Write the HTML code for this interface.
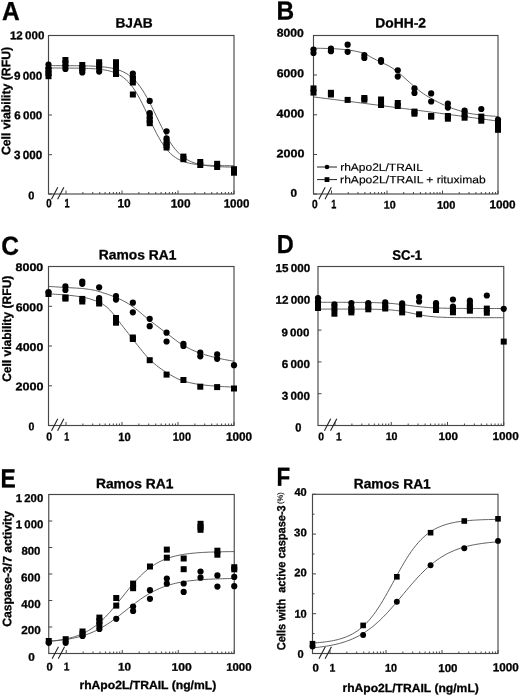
<!DOCTYPE html>
<html><head><meta charset="utf-8"><style>
html,body{margin:0;padding:0;background:#fff;}
svg{display:block;font-family:"Liberation Sans", sans-serif;filter:grayscale(1);}
</style></head><body>
<svg width="520" height="696" viewBox="0 0 520 696">
<rect width="520" height="696" fill="#fff"/>
<g fill="#000">
<rect x="48.5" y="35.5" width="185.5" height="158.5" fill="none" stroke="#474747" stroke-width="1.15"/>
<path d="M48.5 35.5 h3.5 M48.5 75.2 h3.5 M48.5 115 h3.5 M48.5 154.7 h3.5 M48.5 194 h3.5 M66 194 v-3.5 M82.86 194 v-2 M92.72 194 v-2 M99.72 194 v-2 M105.14 194 v-2 M109.58 194 v-2 M113.33 194 v-2 M116.57 194 v-2 M119.44 194 v-2 M122 194 v-3.5 M138.86 194 v-2 M148.72 194 v-2 M155.72 194 v-2 M161.14 194 v-2 M165.58 194 v-2 M169.33 194 v-2 M172.57 194 v-2 M175.44 194 v-2 M178 194 v-3.5 M194.86 194 v-2 M204.72 194 v-2 M211.72 194 v-2 M217.14 194 v-2 M221.58 194 v-2 M225.33 194 v-2 M228.57 194 v-2 M231.44 194 v-2 M234 194 v-3.5 " stroke="#474747" stroke-width="1" fill="none"/>
<path d="M51.5 199.2 L57.8 187.3 M57.6 199.2 L63.9 187.3" stroke="#222" stroke-width="1.1" fill="none"/>
<path d="M48.5 65.61 L50.85 65.62 L53.2 65.62 L55.54 65.63 L57.89 65.63 L60.24 65.64 L62.59 65.65 L64.94 65.66 L67.28 65.67 L69.63 65.68 L71.98 65.7 L74.33 65.72 L76.68 65.75 L79.03 65.78 L81.37 65.81 L83.72 65.86 L86.07 65.92 L88.42 65.98 L90.77 66.06 L93.11 66.16 L95.46 66.28 L97.81 66.42 L100.16 66.59 L102.51 66.8 L104.85 67.05 L107.2 67.36 L109.55 67.72 L111.9 68.16 L114.25 68.69 L116.59 69.32 L118.94 70.08 L121.29 70.97 L123.64 72.04 L125.99 73.31 L128.34 74.8 L130.68 76.54 L133.03 78.56 L135.38 80.9 L137.73 83.57 L140.08 86.6 L142.42 89.99 L144.77 93.73 L147.12 97.81 L149.47 102.19 L151.82 106.81 L154.16 111.6 L156.51 116.48 L158.86 121.35 L161.21 126.14 L163.56 130.76 L165.91 135.13 L168.25 139.21 L170.6 142.95 L172.95 146.33 L175.3 149.36 L177.65 152.03 L179.99 154.36 L182.34 156.38 L184.69 158.12 L187.04 159.61 L189.39 160.87 L191.73 161.94 L194.08 162.83 L196.43 163.59 L198.78 164.22 L201.13 164.74 L203.47 165.18 L205.82 165.55 L208.17 165.85 L210.52 166.1 L212.87 166.31 L215.22 166.48 L217.56 166.62 L219.91 166.74 L222.26 166.84 L224.61 166.92 L226.96 166.99 L229.3 167.04 L231.65 167.09 L234 167.12" stroke="#505050" stroke-width="0.9" fill="none"/>
<path d="M48.5 68.01 L50.85 68.02 L53.2 68.02 L55.54 68.03 L57.89 68.03 L60.24 68.04 L62.59 68.05 L64.94 68.06 L67.28 68.07 L69.63 68.09 L71.98 68.11 L74.33 68.14 L76.68 68.17 L79.03 68.21 L81.37 68.25 L83.72 68.31 L86.07 68.38 L88.42 68.47 L90.77 68.58 L93.11 68.72 L95.46 68.88 L97.81 69.08 L100.16 69.33 L102.51 69.63 L104.85 70 L107.2 70.45 L109.55 70.99 L111.9 71.66 L114.25 72.46 L116.59 73.44 L118.94 74.61 L121.29 76.01 L123.64 77.68 L125.99 79.65 L128.34 81.95 L130.68 84.63 L133.03 87.69 L135.38 91.17 L137.73 95.04 L140.08 99.28 L142.42 103.86 L144.77 108.7 L147.12 113.7 L149.47 118.78 L151.82 123.81 L154.16 128.7 L156.51 133.35 L158.86 137.69 L161.21 141.66 L163.56 145.24 L165.91 148.41 L168.25 151.19 L170.6 153.59 L172.95 155.64 L175.3 157.38 L177.65 158.85 L179.99 160.08 L182.34 161.1 L184.69 161.95 L187.04 162.65 L189.39 163.22 L191.73 163.7 L194.08 164.08 L196.43 164.4 L198.78 164.66 L201.13 164.87 L203.47 165.04 L205.82 165.19 L208.17 165.3 L210.52 165.39 L212.87 165.47 L215.22 165.53 L217.56 165.58 L219.91 165.62 L222.26 165.66 L224.61 165.68 L226.96 165.7 L229.3 165.72 L231.65 165.74 L234 165.75" stroke="#505050" stroke-width="0.9" fill="none"/>
<circle cx="48.5" cy="64.5" r="3.1"/>
<circle cx="48.5" cy="68" r="3.1"/>
<rect x="45.5" y="67" width="6.0" height="6.0"/>
<rect x="45.5" y="70" width="6.0" height="6.0"/>
<rect x="45.5" y="73.2" width="6.0" height="6.0"/>
<rect x="62.42" y="57" width="6.0" height="6.0"/>
<rect x="62.42" y="60.5" width="6.0" height="6.0"/>
<circle cx="65.42" cy="66" r="3.1"/>
<circle cx="65.42" cy="69" r="3.1"/>
<rect x="79.28" y="62" width="6.0" height="6.0"/>
<rect x="79.28" y="65" width="6.0" height="6.0"/>
<circle cx="82.28" cy="70" r="3.1"/>
<circle cx="82.28" cy="72.4" r="3.1"/>
<rect x="96.14" y="59.2" width="6.0" height="6.0"/>
<rect x="96.14" y="62" width="6.0" height="6.0"/>
<circle cx="99.14" cy="68" r="3.1"/>
<circle cx="99.14" cy="71.6" r="3.1"/>
<rect x="113" y="59.2" width="6.0" height="6.0"/>
<rect x="113" y="63" width="6.0" height="6.0"/>
<circle cx="116" cy="70" r="3.1"/>
<rect x="113" y="71" width="6.0" height="6.0"/>
<circle cx="132.85" cy="73.6" r="3.1"/>
<circle cx="132.85" cy="77" r="3.1"/>
<rect x="129.85" y="76" width="6.0" height="6.0"/>
<rect x="129.85" y="79.5" width="6.0" height="6.0"/>
<rect x="129.85" y="91.5" width="6.0" height="6.0"/>
<circle cx="149.71" cy="100.9" r="3.1"/>
<circle cx="149.71" cy="113" r="3.1"/>
<rect x="146.71" y="113" width="6.0" height="6.0"/>
<rect x="146.71" y="117" width="6.0" height="6.0"/>
<rect x="146.71" y="120.2" width="6.0" height="6.0"/>
<circle cx="166.57" cy="131.3" r="3.1"/>
<circle cx="166.57" cy="138.4" r="3.1"/>
<rect x="163.57" y="139" width="6.0" height="6.0"/>
<rect x="163.57" y="142" width="6.0" height="6.0"/>
<rect x="163.57" y="144.5" width="6.0" height="6.0"/>
<rect x="180.43" y="153.6" width="6.0" height="6.0"/>
<rect x="180.43" y="156.2" width="6.0" height="6.0"/>
<rect x="197.28" y="159" width="6.0" height="6.0"/>
<rect x="197.28" y="162" width="6.0" height="6.0"/>
<rect x="214.14" y="160.8" width="6.0" height="6.0"/>
<rect x="214.14" y="164" width="6.0" height="6.0"/>
<rect x="231" y="166.2" width="6.0" height="6.0"/>
<rect x="231" y="169.7" width="6.0" height="6.0"/>
<rect x="313.5" y="35.5" width="184.5" height="158.5" fill="none" stroke="#474747" stroke-width="1.15"/>
<path d="M313.5 35.5 h3.5 M313.5 75 h3.5 M313.5 114.8 h3.5 M313.5 154.5 h3.5 M313.5 194 h3.5 M331.5 194 v-3.5 M348.21 194 v-2 M357.98 194 v-2 M364.91 194 v-2 M370.29 194 v-2 M374.69 194 v-2 M378.4 194 v-2 M381.62 194 v-2 M384.46 194 v-2 M387 194 v-3.5 M403.71 194 v-2 M413.48 194 v-2 M420.41 194 v-2 M425.79 194 v-2 M430.19 194 v-2 M433.9 194 v-2 M437.12 194 v-2 M439.96 194 v-2 M442.5 194 v-3.5 M459.21 194 v-2 M468.98 194 v-2 M475.91 194 v-2 M481.29 194 v-2 M485.69 194 v-2 M489.4 194 v-2 M492.62 194 v-2 M495.46 194 v-2 M498 194 v-3.5 " stroke="#474747" stroke-width="1" fill="none"/>
<path d="M318.9 199.2 L325.2 187.3 M325 199.2 L331.3 187.3" stroke="#222" stroke-width="1.1" fill="none"/>
<path d="M313.5 48.25 L315.84 48.26 L318.17 48.28 L320.51 48.32 L322.84 48.37 L325.18 48.43 L327.51 48.49 L329.85 48.56 L332.18 48.64 L334.52 48.76 L336.85 48.9 L339.19 49.08 L341.53 49.29 L343.86 49.52 L346.2 49.77 L348.53 50.05 L350.87 50.37 L353.2 50.75 L355.54 51.19 L357.87 51.7 L360.21 52.28 L362.54 52.95 L364.88 53.7 L367.22 54.9 L369.55 56.35 L371.89 57.64 L374.22 58.89 L376.56 60.08 L378.89 61.22 L381.23 62.35 L383.56 63.43 L385.9 64.5 L388.23 65.64 L390.57 66.93 L392.91 68.41 L395.24 70.05 L397.58 71.8 L399.91 73.72 L402.25 75.81 L404.58 77.93 L406.92 80.01 L409.25 82.12 L411.59 84.22 L413.92 86.24 L416.26 88.2 L418.59 90.11 L420.93 91.92 L423.27 93.58 L425.6 95.12 L427.94 96.57 L430.27 97.96 L432.61 99.28 L434.94 100.54 L437.28 101.74 L439.61 102.91 L441.95 104.05 L444.28 105.13 L446.62 106.14 L448.96 107.07 L451.29 107.94 L453.63 108.76 L455.96 109.54 L458.3 110.28 L460.63 110.99 L462.97 111.7 L465.3 112.38 L467.64 113 L469.97 113.5 L472.31 113.89 L474.65 114.24 L476.98 114.54 L479.32 114.81 L481.65 115.07 L483.99 115.32 L486.32 115.55 L488.66 115.78 L490.99 115.99 L493.33 116.18 L495.66 116.35 L498 116.5" stroke="#505050" stroke-width="0.9" fill="none"/>
<path d="M313.5 96.93 L315.84 97.22 L318.17 97.51 L320.51 97.81 L322.84 98.1 L325.18 98.4 L327.51 98.69 L329.85 98.99 L332.18 99.28 L334.52 99.58 L336.85 99.88 L339.19 100.17 L341.53 100.47 L343.86 100.77 L346.2 101.06 L348.53 101.36 L350.87 101.66 L353.2 101.96 L355.54 102.26 L357.87 102.56 L360.21 102.86 L362.54 103.16 L364.88 103.46 L367.22 103.76 L369.55 104.06 L371.89 104.36 L374.22 104.66 L376.56 104.96 L378.89 105.26 L381.23 105.57 L383.56 105.87 L385.9 106.17 L388.23 106.48 L390.57 106.78 L392.91 107.08 L395.24 107.39 L397.58 107.69 L399.91 108 L402.25 108.3 L404.58 108.61 L406.92 108.92 L409.25 109.22 L411.59 109.53 L413.92 109.84 L416.26 110.14 L418.59 110.45 L420.93 110.76 L423.27 111.07 L425.6 111.38 L427.94 111.69 L430.27 111.99 L432.61 112.3 L434.94 112.61 L437.28 112.92 L439.61 113.24 L441.95 113.55 L444.28 113.86 L446.62 114.17 L448.96 114.48 L451.29 114.79 L453.63 115.11 L455.96 115.42 L458.3 115.73 L460.63 116.05 L462.97 116.36 L465.3 116.68 L467.64 116.99 L469.97 117.31 L472.31 117.62 L474.65 117.94 L476.98 118.25 L479.32 118.57 L481.65 118.89 L483.99 119.21 L486.32 119.52 L488.66 119.84 L490.99 120.16 L493.33 120.48 L495.66 120.8 L498 121.12" stroke="#505050" stroke-width="0.9" fill="none"/>
<circle cx="313.5" cy="49.5" r="3.1"/>
<circle cx="313.5" cy="53" r="3.1"/>
<rect x="310.5" y="85.4" width="6.0" height="6.0"/>
<rect x="310.5" y="89.6" width="6.0" height="6.0"/>
<circle cx="330.93" cy="48.6" r="3.1"/>
<circle cx="330.93" cy="51.2" r="3.1"/>
<rect x="327.93" y="89.8" width="6.0" height="6.0"/>
<rect x="327.93" y="91.5" width="6.0" height="6.0"/>
<circle cx="347.64" cy="44.7" r="3.1"/>
<circle cx="347.64" cy="51.8" r="3.1"/>
<rect x="344.64" y="96.9" width="6.0" height="6.0"/>
<circle cx="364.34" cy="55" r="3.1"/>
<circle cx="364.34" cy="58" r="3.1"/>
<rect x="361.34" y="95" width="6.0" height="6.0"/>
<rect x="361.34" y="96.7" width="6.0" height="6.0"/>
<circle cx="381.05" cy="60" r="3.1"/>
<circle cx="381.05" cy="61.8" r="3.1"/>
<rect x="378.05" y="96.5" width="6.0" height="6.0"/>
<rect x="378.05" y="102" width="6.0" height="6.0"/>
<circle cx="397.76" cy="70.3" r="3.1"/>
<circle cx="397.76" cy="76.6" r="3.1"/>
<rect x="394.76" y="100" width="6.0" height="6.0"/>
<rect x="394.76" y="103" width="6.0" height="6.0"/>
<circle cx="414.46" cy="88.4" r="3.1"/>
<circle cx="414.46" cy="93" r="3.1"/>
<rect x="411.46" y="108.6" width="6.0" height="6.0"/>
<rect x="411.46" y="110.7" width="6.0" height="6.0"/>
<circle cx="431.17" cy="93.4" r="3.1"/>
<circle cx="431.17" cy="101.5" r="3.1"/>
<rect x="428.17" y="113" width="6.0" height="6.0"/>
<rect x="428.17" y="113.7" width="6.0" height="6.0"/>
<circle cx="447.88" cy="103.5" r="3.1"/>
<circle cx="447.88" cy="107.6" r="3.1"/>
<rect x="444.88" y="113" width="6.0" height="6.0"/>
<rect x="444.88" y="115.7" width="6.0" height="6.0"/>
<circle cx="464.59" cy="110.6" r="3.1"/>
<rect x="461.59" y="111" width="6.0" height="6.0"/>
<rect x="461.59" y="114.7" width="6.0" height="6.0"/>
<circle cx="481.29" cy="109" r="3.1"/>
<rect x="478.29" y="113.6" width="6.0" height="6.0"/>
<rect x="478.29" y="117.7" width="6.0" height="6.0"/>
<circle cx="498" cy="119.5" r="3.1"/>
<rect x="495" y="119" width="6.0" height="6.0"/>
<rect x="495" y="123" width="6.0" height="6.0"/>
<rect x="495" y="126.8" width="6.0" height="6.0"/>
<path d="M317 167 H337 M317 179.6 H337" stroke="#222" stroke-width="1"/>
<circle cx="327" cy="167" r="2.3"/>
<rect x="324.6" y="177.2" width="4.8" height="4.8"/>
<rect x="48.5" y="266.5" width="185.5" height="159" fill="none" stroke="#474747" stroke-width="1.15"/>
<path d="M48.5 266.5 h3.5 M48.5 306.3 h3.5 M48.5 346 h3.5 M48.5 385.8 h3.5 M48.5 425.5 h3.5 M66 425.5 v-3.5 M82.86 425.5 v-2 M92.72 425.5 v-2 M99.72 425.5 v-2 M105.14 425.5 v-2 M109.58 425.5 v-2 M113.33 425.5 v-2 M116.57 425.5 v-2 M119.44 425.5 v-2 M122 425.5 v-3.5 M138.86 425.5 v-2 M148.72 425.5 v-2 M155.72 425.5 v-2 M161.14 425.5 v-2 M165.58 425.5 v-2 M169.33 425.5 v-2 M172.57 425.5 v-2 M175.44 425.5 v-2 M178 425.5 v-3.5 M194.86 425.5 v-2 M204.72 425.5 v-2 M211.72 425.5 v-2 M217.14 425.5 v-2 M221.58 425.5 v-2 M225.33 425.5 v-2 M228.57 425.5 v-2 M231.44 425.5 v-2 M234 425.5 v-3.5 " stroke="#474747" stroke-width="1" fill="none"/>
<path d="M51.5 430.7 L57.8 418.8 M57.6 430.7 L63.9 418.8" stroke="#222" stroke-width="1.1" fill="none"/>
<path d="M48.5 286.4 L50.85 286.56 L53.2 286.71 L55.54 286.86 L57.89 287.02 L60.24 287.17 L62.59 287.32 L64.94 287.46 L67.28 287.61 L69.63 287.73 L71.98 287.86 L74.33 287.98 L76.68 288.11 L79.03 288.27 L81.37 288.45 L83.72 288.66 L86.07 288.93 L88.42 289.25 L90.77 289.62 L93.11 290.04 L95.46 290.5 L97.81 291.1 L100.16 291.82 L102.51 292.61 L104.85 293.38 L107.2 294.16 L109.55 294.97 L111.9 295.84 L114.25 296.76 L116.59 297.72 L118.94 298.74 L121.29 299.82 L123.64 300.99 L125.99 302.27 L128.34 303.7 L130.68 305.24 L133.03 306.88 L135.38 308.58 L137.73 310.42 L140.08 312.39 L142.42 314.4 L144.77 316.38 L147.12 318.3 L149.47 320.18 L151.82 322.02 L154.16 323.82 L156.51 325.61 L158.86 327.38 L161.21 329.14 L163.56 330.89 L165.91 332.63 L168.25 334.4 L170.6 336.22 L172.95 338.06 L175.3 339.89 L177.65 341.65 L179.99 343.3 L182.34 344.8 L184.69 346.13 L187.04 347.4 L189.39 348.59 L191.73 349.72 L194.08 350.78 L196.43 351.77 L198.78 352.68 L201.13 353.52 L203.47 354.29 L205.82 355.01 L208.17 355.68 L210.52 356.32 L212.87 356.92 L215.22 357.48 L217.56 358.03 L219.91 358.55 L222.26 359.06 L224.61 359.54 L226.96 360 L229.3 360.43 L231.65 360.83 L234 361.2" stroke="#505050" stroke-width="0.9" fill="none"/>
<path d="M48.5 293.9 L50.85 294 L53.2 294.11 L55.54 294.25 L57.89 294.41 L60.24 294.58 L62.59 294.76 L64.94 294.95 L67.28 295.16 L69.63 295.38 L71.98 295.62 L74.33 295.89 L76.68 296.19 L79.03 296.52 L81.37 296.89 L83.72 297.32 L86.07 297.85 L88.42 298.47 L90.77 299.17 L93.11 299.94 L95.46 300.77 L97.81 301.71 L100.16 302.8 L102.51 304.08 L104.85 305.58 L107.2 307.49 L109.55 309.76 L111.9 312.26 L114.25 314.98 L116.59 318.17 L118.94 321.39 L121.29 324.43 L123.64 327.44 L125.99 330.43 L128.34 333.43 L130.68 336.47 L133.03 339.51 L135.38 342.53 L137.73 345.47 L140.08 348.38 L142.42 351.31 L144.77 354.17 L147.12 356.86 L149.47 359.28 L151.82 361.45 L154.16 363.51 L156.51 365.45 L158.86 367.29 L161.21 369.01 L163.56 370.64 L165.91 372.15 L168.25 373.58 L170.6 374.97 L172.95 376.32 L175.3 377.58 L177.65 378.74 L179.99 379.76 L182.34 380.63 L184.69 381.34 L187.04 381.98 L189.39 382.56 L191.73 383.09 L194.08 383.56 L196.43 383.99 L198.78 384.36 L201.13 384.68 L203.47 384.97 L205.82 385.24 L208.17 385.48 L210.52 385.7 L212.87 385.89 L215.22 386.07 L217.56 386.24 L219.91 386.39 L222.26 386.54 L224.61 386.68 L226.96 386.81 L229.3 386.92 L231.65 387.02 L234 387.1" stroke="#505050" stroke-width="0.9" fill="none"/>
<circle cx="48.5" cy="292" r="3.1"/>
<rect x="45.5" y="291" width="6.0" height="6.0"/>
<circle cx="65.42" cy="286.4" r="3.1"/>
<circle cx="65.42" cy="290" r="3.1"/>
<rect x="62.42" y="294.5" width="6.0" height="6.0"/>
<rect x="62.42" y="295.6" width="6.0" height="6.0"/>
<circle cx="82.28" cy="281.6" r="3.1"/>
<circle cx="82.28" cy="283.8" r="3.1"/>
<rect x="79.28" y="295.9" width="6.0" height="6.0"/>
<rect x="79.28" y="298.5" width="6.0" height="6.0"/>
<circle cx="99.14" cy="287.3" r="3.1"/>
<circle cx="99.14" cy="298" r="3.1"/>
<rect x="96.14" y="298" width="6.0" height="6.0"/>
<rect x="96.14" y="300.5" width="6.0" height="6.0"/>
<circle cx="116" cy="296" r="3.1"/>
<circle cx="116" cy="299.6" r="3.1"/>
<rect x="113" y="315" width="6.0" height="6.0"/>
<rect x="113" y="319.7" width="6.0" height="6.0"/>
<circle cx="132.85" cy="302.7" r="3.1"/>
<circle cx="132.85" cy="312.3" r="3.1"/>
<rect x="129.85" y="334.5" width="6.0" height="6.0"/>
<rect x="129.85" y="336" width="6.0" height="6.0"/>
<circle cx="149.71" cy="318.8" r="3.1"/>
<circle cx="149.71" cy="326.2" r="3.1"/>
<rect x="146.71" y="357.2" width="6.0" height="6.0"/>
<circle cx="166.57" cy="332.7" r="3.1"/>
<circle cx="166.57" cy="341.5" r="3.1"/>
<rect x="163.57" y="371.6" width="6.0" height="6.0"/>
<circle cx="183.43" cy="343.8" r="3.1"/>
<circle cx="183.43" cy="346" r="3.1"/>
<rect x="180.43" y="377" width="6.0" height="6.0"/>
<circle cx="200.28" cy="352.5" r="3.1"/>
<circle cx="200.28" cy="356.3" r="3.1"/>
<rect x="197.28" y="383.7" width="6.0" height="6.0"/>
<circle cx="217.14" cy="354.4" r="3.1"/>
<circle cx="217.14" cy="358.8" r="3.1"/>
<rect x="214.14" y="384.1" width="6.0" height="6.0"/>
<circle cx="234" cy="365.2" r="3.1"/>
<rect x="231" y="385.5" width="6.0" height="6.0"/>
<rect x="318" y="266.5" width="185.75" height="159" fill="none" stroke="#474747" stroke-width="1.15"/>
<path d="M318 266.5 h3.5 M318 298.3 h3.5 M318 330.1 h3.5 M318 361.9 h3.5 M318 393.7 h3.5 M318 425.5 h3.5 M335 425.5 v-3.5 M351.93 425.5 v-2 M361.84 425.5 v-2 M368.87 425.5 v-2 M374.32 425.5 v-2 M378.77 425.5 v-2 M382.54 425.5 v-2 M385.8 425.5 v-2 M388.68 425.5 v-2 M391.25 425.5 v-3.5 M408.18 425.5 v-2 M418.09 425.5 v-2 M425.12 425.5 v-2 M430.57 425.5 v-2 M435.02 425.5 v-2 M438.79 425.5 v-2 M442.05 425.5 v-2 M444.93 425.5 v-2 M447.5 425.5 v-3.5 M464.43 425.5 v-2 M474.34 425.5 v-2 M481.37 425.5 v-2 M486.82 425.5 v-2 M491.27 425.5 v-2 M495.04 425.5 v-2 M498.3 425.5 v-2 M501.18 425.5 v-2 M503.75 425.5 v-3.5 " stroke="#474747" stroke-width="1" fill="none"/>
<path d="M324.4 430.7 L330.7 418.8 M330.5 430.7 L336.8 418.8" stroke="#222" stroke-width="1.1" fill="none"/>
<path d="M318 302.29 L320.35 302.3 L322.7 302.3 L325.05 302.3 L327.41 302.3 L329.76 302.3 L332.11 302.3 L334.46 302.3 L336.81 302.31 L339.16 302.31 L341.51 302.31 L343.86 302.32 L346.22 302.32 L348.57 302.33 L350.92 302.34 L353.27 302.35 L355.62 302.36 L357.97 302.38 L360.32 302.4 L362.67 302.42 L365.03 302.44 L367.38 302.48 L369.73 302.52 L372.08 302.56 L374.43 302.62 L376.78 302.69 L379.13 302.77 L381.48 302.86 L383.84 302.97 L386.19 303.1 L388.54 303.25 L390.89 303.42 L393.24 303.61 L395.59 303.83 L397.94 304.07 L400.29 304.33 L402.65 304.6 L405 304.9 L407.35 305.2 L409.7 305.51 L412.05 305.81 L414.4 306.11 L416.75 306.39 L419.1 306.66 L421.46 306.9 L423.81 307.13 L426.16 307.33 L428.51 307.5 L430.86 307.66 L433.21 307.79 L435.56 307.91 L437.91 308.01 L440.27 308.09 L442.62 308.16 L444.97 308.22 L447.32 308.27 L449.67 308.31 L452.02 308.35 L454.37 308.38 L456.72 308.4 L459.08 308.42 L461.43 308.44 L463.78 308.45 L466.13 308.46 L468.48 308.47 L470.83 308.48 L473.18 308.48 L475.53 308.49 L477.89 308.49 L480.24 308.5 L482.59 308.5 L484.94 308.5 L487.29 308.5 L489.64 308.5 L491.99 308.51 L494.34 308.51 L496.7 308.51 L499.05 308.51 L501.4 308.51 L503.75 308.51" stroke="#505050" stroke-width="0.9" fill="none"/>
<path d="M318 309.08 L320.35 309.08 L322.7 309.08 L325.05 309.08 L327.41 309.08 L329.76 309.08 L332.11 309.08 L334.46 309.08 L336.81 309.08 L339.16 309.08 L341.51 309.08 L343.86 309.09 L346.22 309.09 L348.57 309.09 L350.92 309.09 L353.27 309.1 L355.62 309.11 L357.97 309.11 L360.32 309.12 L362.67 309.14 L365.03 309.15 L367.38 309.17 L369.73 309.2 L372.08 309.23 L374.43 309.27 L376.78 309.32 L379.13 309.38 L381.48 309.46 L383.84 309.55 L386.19 309.66 L388.54 309.81 L390.89 309.98 L393.24 310.18 L395.59 310.43 L397.94 310.72 L400.29 311.05 L402.65 311.43 L405 311.85 L407.35 312.3 L409.7 312.78 L412.05 313.28 L414.4 313.78 L416.75 314.27 L419.1 314.74 L421.46 315.18 L423.81 315.57 L426.16 315.92 L428.51 316.23 L430.86 316.49 L433.21 316.71 L435.56 316.9 L437.91 317.05 L440.27 317.18 L442.62 317.28 L444.97 317.36 L447.32 317.43 L449.67 317.49 L452.02 317.53 L454.37 317.56 L456.72 317.59 L459.08 317.61 L461.43 317.63 L463.78 317.64 L466.13 317.66 L468.48 317.66 L470.83 317.67 L473.18 317.68 L475.53 317.68 L477.89 317.68 L480.24 317.69 L482.59 317.69 L484.94 317.69 L487.29 317.69 L489.64 317.69 L491.99 317.69 L494.34 317.7 L496.7 317.7 L499.05 317.7 L501.4 317.7 L503.75 317.7" stroke="#505050" stroke-width="0.9" fill="none"/>
<circle cx="318" cy="298" r="3.1"/>
<circle cx="318" cy="301.5" r="3.1"/>
<rect x="315" y="302" width="6.0" height="6.0"/>
<rect x="315" y="305" width="6.0" height="6.0"/>
<circle cx="334.42" cy="304.3" r="3.1"/>
<rect x="331.42" y="305" width="6.0" height="6.0"/>
<rect x="331.42" y="310.7" width="6.0" height="6.0"/>
<circle cx="351.35" cy="303" r="3.1"/>
<circle cx="351.35" cy="307" r="3.1"/>
<rect x="348.35" y="307" width="6.0" height="6.0"/>
<rect x="348.35" y="309.4" width="6.0" height="6.0"/>
<circle cx="368.29" cy="303" r="3.1"/>
<rect x="365.29" y="303" width="6.0" height="6.0"/>
<rect x="365.29" y="306.3" width="6.0" height="6.0"/>
<circle cx="385.22" cy="302.4" r="3.1"/>
<rect x="382.22" y="302.5" width="6.0" height="6.0"/>
<rect x="382.22" y="305.5" width="6.0" height="6.0"/>
<circle cx="402.15" cy="303.4" r="3.1"/>
<rect x="399.15" y="304" width="6.0" height="6.0"/>
<rect x="399.15" y="309.4" width="6.0" height="6.0"/>
<circle cx="419.09" cy="297" r="3.1"/>
<circle cx="419.09" cy="301.5" r="3.1"/>
<rect x="416.09" y="311.3" width="6.0" height="6.0"/>
<circle cx="436.02" cy="303.2" r="3.1"/>
<rect x="433.02" y="303" width="6.0" height="6.0"/>
<rect x="433.02" y="307" width="6.0" height="6.0"/>
<circle cx="452.95" cy="299.5" r="3.1"/>
<circle cx="452.95" cy="306.6" r="3.1"/>
<rect x="449.95" y="306" width="6.0" height="6.0"/>
<rect x="449.95" y="309.3" width="6.0" height="6.0"/>
<circle cx="469.88" cy="300.5" r="3.1"/>
<rect x="466.88" y="301" width="6.0" height="6.0"/>
<rect x="466.88" y="304.5" width="6.0" height="6.0"/>
<rect x="466.88" y="307.7" width="6.0" height="6.0"/>
<circle cx="486.82" cy="295.5" r="3.1"/>
<rect x="483.82" y="305.6" width="6.0" height="6.0"/>
<rect x="483.82" y="309.7" width="6.0" height="6.0"/>
<circle cx="503.75" cy="308.8" r="3.1"/>
<rect x="500.75" y="338.6" width="6.0" height="6.0"/>
<rect x="48.75" y="494.5" width="185.5" height="159" fill="none" stroke="#474747" stroke-width="1.15"/>
<path d="M48.75 494.5 h3.5 M48.75 521 h3.5 M48.75 547.5 h3.5 M48.75 574 h3.5 M48.75 600.5 h3.5 M48.75 627 h3.5 M48.75 653.5 h3.5 M66.25 653.5 v-3.5 M83.11 653.5 v-2 M92.97 653.5 v-2 M99.97 653.5 v-2 M105.39 653.5 v-2 M109.83 653.5 v-2 M113.58 653.5 v-2 M116.82 653.5 v-2 M119.69 653.5 v-2 M122.25 653.5 v-3.5 M139.11 653.5 v-2 M148.97 653.5 v-2 M155.97 653.5 v-2 M161.39 653.5 v-2 M165.83 653.5 v-2 M169.58 653.5 v-2 M172.82 653.5 v-2 M175.69 653.5 v-2 M178.25 653.5 v-3.5 M195.11 653.5 v-2 M204.97 653.5 v-2 M211.97 653.5 v-2 M217.39 653.5 v-2 M221.83 653.5 v-2 M225.58 653.5 v-2 M228.82 653.5 v-2 M231.69 653.5 v-2 M234.25 653.5 v-3.5 " stroke="#474747" stroke-width="1" fill="none"/>
<path d="M52.15 658.7 L58.45 646.8 M58.25 658.7 L64.55 646.8" stroke="#222" stroke-width="1.1" fill="none"/>
<path d="M48.75 641.29 L51.1 641.08 L53.45 640.84 L55.79 640.57 L58.14 640.27 L60.49 639.92 L62.84 639.53 L65.19 639.09 L67.53 638.6 L69.88 638.04 L72.23 637.41 L74.58 636.71 L76.93 635.93 L79.28 635.05 L81.62 634.08 L83.97 633 L86.32 631.8 L88.67 630.47 L91.02 629.02 L93.36 627.43 L95.71 625.69 L98.06 623.81 L100.41 621.79 L102.76 619.61 L105.1 617.29 L107.45 614.84 L109.8 612.26 L112.15 609.57 L114.5 606.77 L116.84 603.91 L119.19 600.98 L121.54 598.03 L123.89 595.07 L126.24 592.12 L128.59 589.22 L130.93 586.38 L133.28 583.62 L135.63 580.97 L137.98 578.44 L140.33 576.03 L142.67 573.77 L145.02 571.65 L147.37 569.68 L149.72 567.86 L152.07 566.18 L154.41 564.64 L156.76 563.24 L159.11 561.97 L161.46 560.81 L163.81 559.77 L166.16 558.84 L168.5 558 L170.85 557.25 L173.2 556.57 L175.55 555.98 L177.9 555.44 L180.24 554.97 L182.59 554.55 L184.94 554.18 L187.29 553.85 L189.64 553.56 L191.98 553.3 L194.33 553.07 L196.68 552.87 L199.03 552.7 L201.38 552.54 L203.72 552.4 L206.07 552.28 L208.42 552.17 L210.77 552.08 L213.12 552 L215.47 551.93 L217.81 551.86 L220.16 551.81 L222.51 551.76 L224.86 551.71 L227.21 551.67 L229.55 551.64 L231.9 551.61 L234.25 551.58" stroke="#505050" stroke-width="0.9" fill="none"/>
<path d="M48.75 641.26 L51.1 641.09 L53.45 640.9 L55.79 640.69 L58.14 640.46 L60.49 640.2 L62.84 639.91 L65.19 639.58 L67.53 639.22 L69.88 638.83 L72.23 638.38 L74.58 637.9 L76.93 637.36 L79.28 636.77 L81.62 636.12 L83.97 635.4 L86.32 634.62 L88.67 633.77 L91.02 632.85 L93.36 631.84 L95.71 630.76 L98.06 629.59 L100.41 628.35 L102.76 627.02 L105.1 625.6 L107.45 624.11 L109.8 622.54 L112.15 620.91 L114.5 619.21 L116.84 617.46 L119.19 615.66 L121.54 613.82 L123.89 611.97 L126.24 610.11 L128.59 608.24 L130.93 606.39 L133.28 604.57 L135.63 602.79 L137.98 601.05 L140.33 599.37 L142.67 597.76 L145.02 596.22 L147.37 594.75 L149.72 593.37 L152.07 592.07 L154.41 590.85 L156.76 589.71 L159.11 588.65 L161.46 587.68 L163.81 586.78 L166.16 585.95 L168.5 585.2 L170.85 584.5 L173.2 583.87 L175.55 583.3 L177.9 582.78 L180.24 582.31 L182.59 581.88 L184.94 581.5 L187.29 581.15 L189.64 580.84 L191.98 580.56 L194.33 580.31 L196.68 580.08 L199.03 579.88 L201.38 579.7 L203.72 579.54 L206.07 579.39 L208.42 579.26 L210.77 579.15 L213.12 579.04 L215.47 578.95 L217.81 578.87 L220.16 578.79 L222.51 578.73 L224.86 578.67 L227.21 578.61 L229.55 578.57 L231.9 578.52 L234.25 578.49" stroke="#505050" stroke-width="0.9" fill="none"/>
<rect x="45.75" y="638" width="6.0" height="6.0"/>
<circle cx="48.75" cy="642.8" r="3.1"/>
<rect x="62.67" y="636.2" width="6.0" height="6.0"/>
<circle cx="65.67" cy="642.8" r="3.1"/>
<rect x="79.53" y="628.5" width="6.0" height="6.0"/>
<rect x="79.53" y="631" width="6.0" height="6.0"/>
<circle cx="82.53" cy="636" r="3.1"/>
<rect x="96.39" y="614.6" width="6.0" height="6.0"/>
<rect x="96.39" y="618" width="6.0" height="6.0"/>
<rect x="96.39" y="621.7" width="6.0" height="6.0"/>
<circle cx="99.39" cy="629" r="3.1"/>
<rect x="113.25" y="595" width="6.0" height="6.0"/>
<rect x="113.25" y="602.6" width="6.0" height="6.0"/>
<circle cx="116.25" cy="618.8" r="3.1"/>
<rect x="130.1" y="580.6" width="6.0" height="6.0"/>
<rect x="130.1" y="585.2" width="6.0" height="6.0"/>
<circle cx="133.1" cy="606.5" r="3.1"/>
<circle cx="133.1" cy="611" r="3.1"/>
<rect x="146.96" y="563.5" width="6.0" height="6.0"/>
<circle cx="149.96" cy="590.2" r="3.1"/>
<circle cx="149.96" cy="598.8" r="3.1"/>
<rect x="163.82" y="546.6" width="6.0" height="6.0"/>
<rect x="163.82" y="554.7" width="6.0" height="6.0"/>
<circle cx="166.82" cy="578.6" r="3.1"/>
<circle cx="166.82" cy="583.7" r="3.1"/>
<rect x="180.68" y="555.5" width="6.0" height="6.0"/>
<rect x="180.68" y="566.2" width="6.0" height="6.0"/>
<circle cx="183.68" cy="583.5" r="3.1"/>
<circle cx="183.68" cy="591.9" r="3.1"/>
<rect x="197.53" y="520.8" width="6.0" height="6.0"/>
<rect x="197.53" y="524" width="6.0" height="6.0"/>
<rect x="197.53" y="526.8" width="6.0" height="6.0"/>
<circle cx="200.53" cy="571.5" r="3.1"/>
<circle cx="200.53" cy="577.7" r="3.1"/>
<rect x="214.39" y="547.7" width="6.0" height="6.0"/>
<rect x="214.39" y="551.7" width="6.0" height="6.0"/>
<circle cx="217.39" cy="575.4" r="3.1"/>
<circle cx="217.39" cy="586.6" r="3.1"/>
<rect x="231.25" y="564.2" width="6.0" height="6.0"/>
<rect x="231.25" y="566.3" width="6.0" height="6.0"/>
<circle cx="234.25" cy="576.9" r="3.1"/>
<circle cx="234.25" cy="586.2" r="3.1"/>
<rect x="312.5" y="494.3" width="185.5" height="159.2" fill="none" stroke="#474747" stroke-width="1.15"/>
<path d="M312.5 494.3 h3.5 M312.5 534.1 h3.5 M312.5 573.9 h3.5 M312.5 613.7 h3.5 M312.5 653.5 h3.5 M312.5 514.2 h2.0 M312.5 554 h2.0 M312.5 593.8 h2.0 M312.5 633.6 h2.0 M330 653.5 v-3.5 M346.86 653.5 v-2 M356.72 653.5 v-2 M363.72 653.5 v-2 M369.14 653.5 v-2 M373.58 653.5 v-2 M377.33 653.5 v-2 M380.57 653.5 v-2 M383.44 653.5 v-2 M386 653.5 v-3.5 M402.86 653.5 v-2 M412.72 653.5 v-2 M419.72 653.5 v-2 M425.14 653.5 v-2 M429.58 653.5 v-2 M433.33 653.5 v-2 M436.57 653.5 v-2 M439.44 653.5 v-2 M442 653.5 v-3.5 M458.86 653.5 v-2 M468.72 653.5 v-2 M475.72 653.5 v-2 M481.14 653.5 v-2 M485.58 653.5 v-2 M489.33 653.5 v-2 M492.57 653.5 v-2 M495.44 653.5 v-2 M498 653.5 v-3.5 " stroke="#474747" stroke-width="1" fill="none"/>
<path d="M319 658.7 L325.3 646.8 M325.1 658.7 L331.4 646.8" stroke="#222" stroke-width="1.1" fill="none"/>
<path d="M312.5 643.02 L314.85 642.87 L317.2 642.7 L319.54 642.5 L321.89 642.27 L324.24 642.01 L326.59 641.71 L328.94 641.37 L331.28 640.98 L333.63 640.53 L335.98 640.02 L338.33 639.44 L340.68 638.79 L343.03 638.04 L345.37 637.2 L347.72 636.24 L350.07 635.16 L352.42 633.94 L354.77 632.57 L357.11 631.04 L359.46 629.33 L361.81 627.43 L364.16 625.33 L366.51 623.01 L368.85 620.47 L371.2 617.7 L373.55 614.7 L375.9 611.47 L378.25 608.01 L380.59 604.35 L382.94 600.5 L385.29 596.48 L387.64 592.33 L389.99 588.08 L392.34 583.77 L394.68 579.43 L397.03 575.12 L399.38 570.87 L401.73 566.72 L404.08 562.7 L406.42 558.84 L408.77 555.18 L411.12 551.73 L413.47 548.49 L415.82 545.49 L418.16 542.71 L420.51 540.17 L422.86 537.85 L425.21 535.74 L427.56 533.84 L429.91 532.13 L432.25 530.59 L434.6 529.23 L436.95 528.01 L439.3 526.92 L441.65 525.97 L443.99 525.12 L446.34 524.37 L448.69 523.71 L451.04 523.13 L453.39 522.63 L455.73 522.18 L458.08 521.79 L460.43 521.45 L462.78 521.15 L465.13 520.89 L467.47 520.66 L469.82 520.46 L472.17 520.28 L474.52 520.13 L476.87 520 L479.22 519.88 L481.56 519.78 L483.91 519.69 L486.26 519.62 L488.61 519.55 L490.96 519.49 L493.3 519.44 L495.65 519.4 L498 519.36" stroke="#505050" stroke-width="0.9" fill="none"/>
<path d="M312.5 647.84 L314.85 647.62 L317.2 647.38 L319.54 647.11 L321.89 646.81 L324.24 646.48 L326.59 646.12 L328.94 645.73 L331.28 645.29 L333.63 644.81 L335.98 644.29 L338.33 643.71 L340.68 643.08 L343.03 642.39 L345.37 641.64 L347.72 640.81 L350.07 639.92 L352.42 638.94 L354.77 637.88 L357.11 636.73 L359.46 635.49 L361.81 634.15 L364.16 632.71 L366.51 631.16 L368.85 629.51 L371.2 627.75 L373.55 625.87 L375.9 623.88 L378.25 621.78 L380.59 619.58 L382.94 617.27 L385.29 614.86 L387.64 612.36 L389.99 609.78 L392.34 607.13 L394.68 604.41 L397.03 601.65 L399.38 598.85 L401.73 596.04 L404.08 593.21 L406.42 590.4 L408.77 587.62 L411.12 584.87 L413.47 582.17 L415.82 579.54 L418.16 576.98 L420.51 574.51 L422.86 572.13 L425.21 569.85 L427.56 567.67 L429.91 565.61 L432.25 563.66 L434.6 561.81 L436.95 560.08 L439.3 558.46 L441.65 556.95 L443.99 555.54 L446.34 554.23 L448.69 553.01 L451.04 551.89 L453.39 550.86 L455.73 549.91 L458.08 549.03 L460.43 548.23 L462.78 547.5 L465.13 546.82 L467.47 546.21 L469.82 545.65 L472.17 545.14 L474.52 544.67 L476.87 544.25 L479.22 543.87 L481.56 543.52 L483.91 543.2 L486.26 542.91 L488.61 542.65 L490.96 542.41 L493.3 542.2 L495.65 542 L498 541.83" stroke="#505050" stroke-width="0.9" fill="none"/>
<rect x="309.7" y="640.9" width="5.6" height="5.6"/>
<circle cx="312.5" cy="646.5" r="2.95"/>
<rect x="360.34" y="622.6" width="5.6" height="5.6"/>
<circle cx="363.14" cy="635" r="2.95"/>
<rect x="394.05" y="574" width="5.6" height="5.6"/>
<circle cx="396.85" cy="601.8" r="2.95"/>
<rect x="427.77" y="529.9" width="5.6" height="5.6"/>
<circle cx="430.57" cy="565.3" r="2.95"/>
<rect x="461.48" y="518.2" width="5.6" height="5.6"/>
<circle cx="464.28" cy="548.2" r="2.95"/>
<rect x="495.2" y="516" width="5.6" height="5.6"/>
<circle cx="498" cy="540.9" r="2.95"/>
<text x="2.085" y="19.897" transform="rotate(0.05 2.085 19.897)" font-size="26" font-weight="bold" textLength="17.685" lengthAdjust="spacingAndGlyphs" stroke="#000" stroke-width="0.3">A</text>
<text x="276.385" y="19.406" transform="rotate(0.05 276.385 19.406)" font-size="26" font-weight="bold" textLength="17.646" lengthAdjust="spacingAndGlyphs" stroke="#000" stroke-width="0.3">B</text>
<text x="1.164" y="254.836" transform="rotate(0.05 1.164 254.836)" font-size="26" font-weight="bold" textLength="17.68" lengthAdjust="spacingAndGlyphs" stroke="#000" stroke-width="0.3">C</text>
<text x="276.866" y="252.944" transform="rotate(0.05 276.866 252.944)" font-size="26" font-weight="bold" textLength="17.014" lengthAdjust="spacingAndGlyphs" stroke="#000" stroke-width="0.3">D</text>
<text x="0.517" y="487.139" transform="rotate(0.05 0.517 487.139)" font-size="26" font-weight="bold" textLength="15.267" lengthAdjust="spacingAndGlyphs" stroke="#000" stroke-width="0.3">E</text>
<text x="276.435" y="485.66" transform="rotate(0.05 276.435 485.66)" font-size="26" font-weight="bold" textLength="13.671" lengthAdjust="spacingAndGlyphs" stroke="#000" stroke-width="0.3">F</text>
<text x="115.4" y="27.446" transform="rotate(0.05 115.4 27.446)" font-size="13.6" font-weight="bold" textLength="37.352" lengthAdjust="spacingAndGlyphs" stroke="#000" stroke-width="0.3">BJAB</text>
<text x="375.377" y="27.57" transform="rotate(0.05 375.377 27.57)" font-size="13.6" font-weight="bold" textLength="50.681" lengthAdjust="spacingAndGlyphs" stroke="#000" stroke-width="0.3">DoHH-2</text>
<text x="98.752" y="259.354" transform="rotate(0.05 98.752 259.354)" font-size="13.6" font-weight="bold" textLength="77.62" lengthAdjust="spacingAndGlyphs" stroke="#000" stroke-width="0.3">Ramos RA1</text>
<text x="392.209" y="259.765" transform="rotate(0.05 392.209 259.765)" font-size="13.6" font-weight="bold" textLength="29.945" lengthAdjust="spacingAndGlyphs" stroke="#000" stroke-width="0.3">SC-1</text>
<text x="95.942" y="488.135" transform="rotate(0.05 95.942 488.135)" font-size="13.6" font-weight="bold" textLength="77.532" lengthAdjust="spacingAndGlyphs" stroke="#000" stroke-width="0.3">Ramos RA1</text>
<text x="353.849" y="488.369" transform="rotate(0.05 353.849 488.369)" font-size="13.6" font-weight="bold" textLength="76.827" lengthAdjust="spacingAndGlyphs" stroke="#000" stroke-width="0.3">Ramos RA1</text>
<text x="9.947" y="39.187" transform="rotate(0.05 9.947 39.187)" font-size="11.372" font-weight="bold" textLength="34.447" lengthAdjust="spacingAndGlyphs" stroke="#000" stroke-width="0.3">12 000</text>
<text x="13.972" y="79.778" transform="rotate(0.05 13.972 79.778)" font-size="11.442" font-weight="bold" textLength="28.373" lengthAdjust="spacingAndGlyphs" stroke="#000" stroke-width="0.3">9 000</text>
<text x="14.354" y="119.221" transform="rotate(0.05 14.354 119.221)" font-size="11.302" font-weight="bold" textLength="27.935" lengthAdjust="spacingAndGlyphs" stroke="#000" stroke-width="0.3">6 000</text>
<text x="13.958" y="158.92" transform="rotate(0.05 13.958 158.92)" font-size="12" font-weight="bold" textLength="28.29" lengthAdjust="spacingAndGlyphs" stroke="#000" stroke-width="0.3">3 000</text>
<text x="28.256" y="199.327" transform="rotate(0.05 28.256 199.327)" font-size="11" font-weight="bold" textLength="6.118" lengthAdjust="spacingAndGlyphs" stroke="#000" stroke-width="0.3">0</text>
<text x="276.66" y="36.863" transform="rotate(0.05 276.66 36.863)" font-size="11.442" font-weight="bold" textLength="27.084" lengthAdjust="spacingAndGlyphs" stroke="#000" stroke-width="0.3">8000</text>
<text x="276.737" y="77.327" transform="rotate(0.05 276.737 77.327)" font-size="11.442" font-weight="bold" textLength="27.201" lengthAdjust="spacingAndGlyphs" stroke="#000" stroke-width="0.3">6000</text>
<text x="276.532" y="117.375" transform="rotate(0.05 276.532 117.375)" font-size="11.442" font-weight="bold" textLength="27.796" lengthAdjust="spacingAndGlyphs" stroke="#000" stroke-width="0.3">4000</text>
<text x="276.465" y="157.281" transform="rotate(0.05 276.465 157.281)" font-size="11.023" font-weight="bold" textLength="27.925" lengthAdjust="spacingAndGlyphs" stroke="#000" stroke-width="0.3">2000</text>
<text x="290.599" y="196.809" transform="rotate(0.05 290.599 196.809)" font-size="11.163" font-weight="bold" textLength="6.545" lengthAdjust="spacingAndGlyphs" stroke="#000" stroke-width="0.3">0</text>
<text x="15.622" y="270.959" transform="rotate(0.05 15.622 270.959)" font-size="11" font-weight="bold" textLength="27.63" lengthAdjust="spacingAndGlyphs" stroke="#000" stroke-width="0.3">8000</text>
<text x="15.671" y="311.182" transform="rotate(0.05 15.671 311.182)" font-size="11.581" font-weight="bold" textLength="27.361" lengthAdjust="spacingAndGlyphs" stroke="#000" stroke-width="0.3">6000</text>
<text x="15.823" y="351.034" transform="rotate(0.05 15.823 351.034)" font-size="11.302" font-weight="bold" textLength="27.496" lengthAdjust="spacingAndGlyphs" stroke="#000" stroke-width="0.3">4000</text>
<text x="15.636" y="390.291" transform="rotate(0.05 15.636 390.291)" font-size="11" font-weight="bold" textLength="27.985" lengthAdjust="spacingAndGlyphs" stroke="#000" stroke-width="0.3">2000</text>
<text x="28.433" y="430.219" transform="rotate(0.05 28.433 430.219)" font-size="11.163" font-weight="bold" textLength="5.887" lengthAdjust="spacingAndGlyphs" stroke="#000" stroke-width="0.3">0</text>
<text x="275.553" y="271.889" transform="rotate(0.05 275.553 271.889)" font-size="11.581" font-weight="bold" textLength="34.753" lengthAdjust="spacingAndGlyphs" stroke="#000" stroke-width="0.3">15 000</text>
<text x="275.601" y="303.832" transform="rotate(0.05 275.601 303.832)" font-size="11.302" font-weight="bold" textLength="34.7" lengthAdjust="spacingAndGlyphs" stroke="#000" stroke-width="0.3">12 000</text>
<text x="281.415" y="336.173" transform="rotate(0.05 281.415 336.173)" font-size="11.023" font-weight="bold" textLength="27.957" lengthAdjust="spacingAndGlyphs" stroke="#000" stroke-width="0.3">9 000</text>
<text x="281.827" y="367.998" transform="rotate(0.05 281.827 367.998)" font-size="11.442" font-weight="bold" textLength="28.239" lengthAdjust="spacingAndGlyphs" stroke="#000" stroke-width="0.3">6 000</text>
<text x="281.762" y="399.873" transform="rotate(0.05 281.762 399.873)" font-size="11.442" font-weight="bold" textLength="28.264" lengthAdjust="spacingAndGlyphs" stroke="#000" stroke-width="0.3">3 000</text>
<text x="295.189" y="431.397" transform="rotate(0.05 295.189 431.397)" font-size="12" font-weight="bold" textLength="6.17" lengthAdjust="spacingAndGlyphs" stroke="#000" stroke-width="0.3">0</text>
<text x="15.661" y="501.934" transform="rotate(0.05 15.661 501.934)" font-size="11.302" font-weight="bold" textLength="27.563" lengthAdjust="spacingAndGlyphs" stroke="#000" stroke-width="0.3">1 200</text>
<text x="15.729" y="528.174" transform="rotate(0.05 15.729 528.174)" font-size="11.442" font-weight="bold" textLength="27.562" lengthAdjust="spacingAndGlyphs" stroke="#000" stroke-width="0.3">1 000</text>
<text x="21.468" y="554.692" transform="rotate(0.05 21.468 554.692)" font-size="11.302" font-weight="bold" textLength="19.019" lengthAdjust="spacingAndGlyphs" stroke="#000" stroke-width="0.3">800</text>
<text x="21.074" y="581.548" transform="rotate(0.05 21.074 581.548)" font-size="11.442" font-weight="bold" textLength="19.49" lengthAdjust="spacingAndGlyphs" stroke="#000" stroke-width="0.3">600</text>
<text x="21.312" y="608.068" transform="rotate(0.05 21.312 608.068)" font-size="11.442" font-weight="bold" textLength="19.284" lengthAdjust="spacingAndGlyphs" stroke="#000" stroke-width="0.3">400</text>
<text x="21.255" y="633.961" transform="rotate(0.05 21.255 633.961)" font-size="11.442" font-weight="bold" textLength="19.549" lengthAdjust="spacingAndGlyphs" stroke="#000" stroke-width="0.3">200</text>
<text x="28.228" y="660.78" transform="rotate(0.05 28.228 660.78)" font-size="11" font-weight="bold" textLength="6.524" lengthAdjust="spacingAndGlyphs" stroke="#000" stroke-width="0.3">0</text>
<text x="294.448" y="495.649" transform="rotate(0.05 294.448 495.649)" font-size="11.023" font-weight="bold" textLength="12.26" lengthAdjust="spacingAndGlyphs" stroke="#000" stroke-width="0.3">40</text>
<text x="294.136" y="536.304" transform="rotate(0.05 294.136 536.304)" font-size="11.023" font-weight="bold" textLength="12.689" lengthAdjust="spacingAndGlyphs" stroke="#000" stroke-width="0.3">30</text>
<text x="294.245" y="576.294" transform="rotate(0.05 294.245 576.294)" font-size="11.023" font-weight="bold" textLength="12.474" lengthAdjust="spacingAndGlyphs" stroke="#000" stroke-width="0.3">20</text>
<text x="294.412" y="617.759" transform="rotate(0.05 294.412 617.759)" font-size="11.302" font-weight="bold" textLength="12.32" lengthAdjust="spacingAndGlyphs" stroke="#000" stroke-width="0.3">10</text>
<text x="297.609" y="657.738" transform="rotate(0.05 297.609 657.738)" font-size="11" font-weight="bold" textLength="6.166" lengthAdjust="spacingAndGlyphs" stroke="#000" stroke-width="0.3">0</text>
<text x="46.176" y="207.354" transform="rotate(0.05 46.176 207.354)" font-size="12" font-weight="bold" textLength="5.387" lengthAdjust="spacingAndGlyphs" stroke="#000" stroke-width="0.3">0</text>
<text x="64.563" y="207.29" transform="rotate(0.05 64.563 207.29)" font-size="12" font-weight="bold" textLength="5.103" lengthAdjust="spacingAndGlyphs" stroke="#000" stroke-width="0.3">1</text>
<text x="117.441" y="207.372" transform="rotate(0.05 117.441 207.372)" font-size="11.86" font-weight="bold" textLength="13.268" lengthAdjust="spacingAndGlyphs" stroke="#000" stroke-width="0.3">10</text>
<text x="170.771" y="207.419" transform="rotate(0.05 170.771 207.419)" font-size="11.86" font-weight="bold" textLength="19.816" lengthAdjust="spacingAndGlyphs" stroke="#000" stroke-width="0.3">100</text>
<text x="223.645" y="207.408" transform="rotate(0.05 223.645 207.408)" font-size="11.86" font-weight="bold" textLength="25.739" lengthAdjust="spacingAndGlyphs" stroke="#000" stroke-width="0.3">1000</text>
<text x="312.115" y="208.359" transform="rotate(0.05 312.115 208.359)" font-size="12.14" font-weight="bold" textLength="5.674" lengthAdjust="spacingAndGlyphs" stroke="#000" stroke-width="0.3">0</text>
<text x="331.241" y="208.265" transform="rotate(0.05 331.241 208.265)" font-size="12.14" font-weight="bold" textLength="5.059" lengthAdjust="spacingAndGlyphs" stroke="#000" stroke-width="0.3">1</text>
<text x="383.846" y="208.419" transform="rotate(0.05 383.846 208.419)" font-size="11" font-weight="bold" textLength="11.916" lengthAdjust="spacingAndGlyphs" stroke="#000" stroke-width="0.3">10</text>
<text x="436.984" y="208.672" transform="rotate(0.05 436.984 208.672)" font-size="11.163" font-weight="bold" textLength="18.413" lengthAdjust="spacingAndGlyphs" stroke="#000" stroke-width="0.3">100</text>
<text x="489.411" y="208.386" transform="rotate(0.05 489.411 208.386)" font-size="11.581" font-weight="bold" textLength="26.188" lengthAdjust="spacingAndGlyphs" stroke="#000" stroke-width="0.3">1000</text>
<text x="46.191" y="440.457" transform="rotate(0.05 46.191 440.457)" font-size="11.581" font-weight="bold" textLength="5.891" lengthAdjust="spacingAndGlyphs" stroke="#000" stroke-width="0.3">0</text>
<text x="64.25" y="440.375" transform="rotate(0.05 64.25 440.375)" font-size="11.581" font-weight="bold" textLength="4.985" lengthAdjust="spacingAndGlyphs" stroke="#000" stroke-width="0.3">1</text>
<text x="118.352" y="440.953" transform="rotate(0.05 118.352 440.953)" font-size="11.86" font-weight="bold" textLength="12.434" lengthAdjust="spacingAndGlyphs" stroke="#000" stroke-width="0.3">10</text>
<text x="172.751" y="440.85" transform="rotate(0.05 172.751 440.85)" font-size="11.86" font-weight="bold" textLength="18.197" lengthAdjust="spacingAndGlyphs" stroke="#000" stroke-width="0.3">100</text>
<text x="225.876" y="440.794" transform="rotate(0.05 225.876 440.794)" font-size="12.14" font-weight="bold" textLength="26.213" lengthAdjust="spacingAndGlyphs" stroke="#000" stroke-width="0.3">1000</text>
<text x="318.18" y="440.33" transform="rotate(0.05 318.18 440.33)" font-size="11" font-weight="bold" textLength="5.751" lengthAdjust="spacingAndGlyphs" stroke="#000" stroke-width="0.3">0</text>
<text x="335.978" y="440.127" transform="rotate(0.05 335.978 440.127)" font-size="11" font-weight="bold" textLength="5.656" lengthAdjust="spacingAndGlyphs" stroke="#000" stroke-width="0.3">1</text>
<text x="385.677" y="440.091" transform="rotate(0.05 385.677 440.091)" font-size="11" font-weight="bold" textLength="11.86" lengthAdjust="spacingAndGlyphs" stroke="#000" stroke-width="0.3">10</text>
<text x="438.631" y="440.103" transform="rotate(0.05 438.631 440.103)" font-size="11.023" font-weight="bold" textLength="19.438" lengthAdjust="spacingAndGlyphs" stroke="#000" stroke-width="0.3">100</text>
<text x="492.455" y="439.901" transform="rotate(0.05 492.455 439.901)" font-size="11.302" font-weight="bold" textLength="26.254" lengthAdjust="spacingAndGlyphs" stroke="#000" stroke-width="0.3">1000</text>
<text x="46.415" y="670.575" transform="rotate(0.05 46.415 670.575)" font-size="11" font-weight="bold" textLength="6.203" lengthAdjust="spacingAndGlyphs" stroke="#000" stroke-width="0.3">0</text>
<text x="63.852" y="670.362" transform="rotate(0.05 63.852 670.362)" font-size="11" font-weight="bold" textLength="5.639" lengthAdjust="spacingAndGlyphs" stroke="#000" stroke-width="0.3">1</text>
<text x="118.048" y="670.605" transform="rotate(0.05 118.048 670.605)" font-size="11.023" font-weight="bold" textLength="13.073" lengthAdjust="spacingAndGlyphs" stroke="#000" stroke-width="0.3">10</text>
<text x="171.525" y="670.664" transform="rotate(0.05 171.525 670.664)" font-size="11.023" font-weight="bold" textLength="20.26" lengthAdjust="spacingAndGlyphs" stroke="#000" stroke-width="0.3">100</text>
<text x="226.18" y="670.67" transform="rotate(0.05 226.18 670.67)" font-size="11.023" font-weight="bold" textLength="25.393" lengthAdjust="spacingAndGlyphs" stroke="#000" stroke-width="0.3">1000</text>
<text x="312.523" y="671.503" transform="rotate(0.05 312.523 671.503)" font-size="11" font-weight="bold" textLength="6.389" lengthAdjust="spacingAndGlyphs" stroke="#000" stroke-width="0.3">0</text>
<text x="329.477" y="671.414" transform="rotate(0.05 329.477 671.414)" font-size="11" font-weight="bold" textLength="5.823" lengthAdjust="spacingAndGlyphs" stroke="#000" stroke-width="0.3">1</text>
<text x="385.087" y="671.816" transform="rotate(0.05 385.087 671.816)" font-size="11.302" font-weight="bold" textLength="12.022" lengthAdjust="spacingAndGlyphs" stroke="#000" stroke-width="0.3">10</text>
<text x="438.279" y="671.876" transform="rotate(0.05 438.279 671.876)" font-size="11.302" font-weight="bold" textLength="19.209" lengthAdjust="spacingAndGlyphs" stroke="#000" stroke-width="0.3">100</text>
<text x="492.716" y="671.233" transform="rotate(0.05 492.716 671.233)" font-size="11.721" font-weight="bold" textLength="25.95" lengthAdjust="spacingAndGlyphs" stroke="#000" stroke-width="0.3">1000</text>
<text transform="translate(10.277 155.11) rotate(-89.95)" font-size="12.3" font-weight="bold" textLength="108.247" lengthAdjust="spacingAndGlyphs" stroke="#000" stroke-width="0.3">Cell viability (RFU)</text>
<text transform="translate(10.886 381.843) rotate(-89.95)" font-size="12.3" font-weight="bold" textLength="106.167" lengthAdjust="spacingAndGlyphs" stroke="#000" stroke-width="0.3">Cell viability (RFU)</text>
<text transform="translate(11.344 626.82) rotate(-89.95)" font-size="12.3" font-weight="bold" textLength="115.938" lengthAdjust="spacingAndGlyphs" stroke="#000" stroke-width="0.3">Caspase-3/7 activity</text>
<text transform="translate(285.248 650.184) rotate(-89.95)" font-size="11.8" font-weight="bold" textLength="144.842" lengthAdjust="spacingAndGlyphs" stroke="#000" stroke-width="0.3">Cells with  active caspase-3</text>
<text x="79.43" y="689.027" transform="rotate(0.05 79.43 689.027)" font-size="11.8" font-weight="bold" textLength="136.843" lengthAdjust="spacingAndGlyphs" stroke="#000" stroke-width="0.3">rhApo2L/TRAIL (ng/mL)</text>
<text x="342.46" y="691.862" transform="rotate(0.05 342.46 691.862)" font-size="11.8" font-weight="bold" textLength="136.364" lengthAdjust="spacingAndGlyphs" stroke="#000" stroke-width="0.3">rhApo2L/TRAIL (ng/mL)</text>
<text x="340.16" y="170.849" transform="rotate(0.05 340.16 170.849)" font-size="10.6" font-weight="normal" textLength="82.719" lengthAdjust="spacingAndGlyphs" stroke="#000" stroke-width="0.15">rhApo2L/TRAIL</text>
<text x="340.113" y="183.247" transform="rotate(0.05 340.113 183.247)" font-size="10.6" font-weight="normal" textLength="145.567" lengthAdjust="spacingAndGlyphs" stroke="#000" stroke-width="0.15">rhApo2L/TRAIL + rituximab</text>
<text transform="translate(282.845 504.002) rotate(-89.95)" font-size="7.5" font-weight="normal" textLength="11.738" lengthAdjust="spacingAndGlyphs" stroke="#000" stroke-width="0.15">(%)</text>
</g>
</svg>
</body></html>
